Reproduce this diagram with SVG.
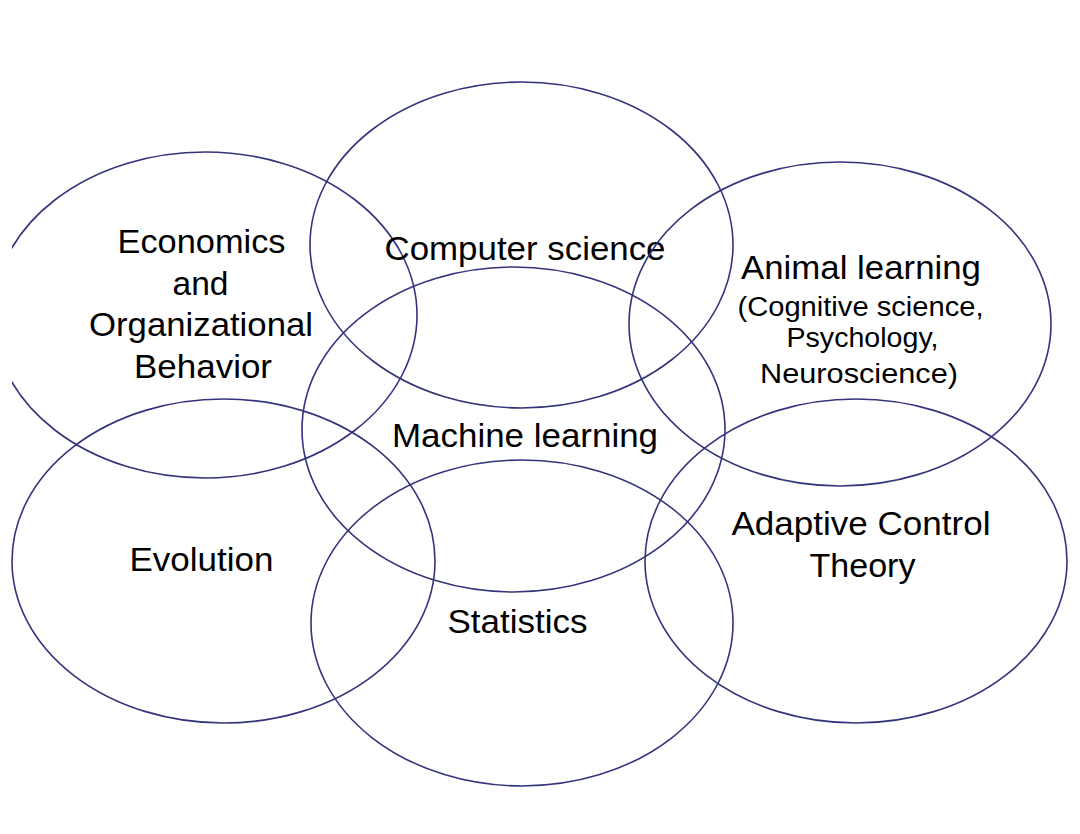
<svg xmlns="http://www.w3.org/2000/svg" width="1080" height="834" viewBox="0 0 1080 834">
<defs>
<style>
.c{fill:none;stroke:#34347c;stroke-width:1.6}
.t{font-family:"Liberation Sans",Arial,sans-serif;font-size:33px;fill:#000;text-anchor:middle}
.s{font-size:27px}
</style>
<clipPath id="clipL"><rect x="12" y="0" width="1068" height="834"/></clipPath>
</defs>
<rect width="1080" height="834" fill="#fff"/>
<g id="economics">
<ellipse class="c" cx="205" cy="315" rx="212" ry="163" clip-path="url(#clipL)"/>
<text class="t" x="201.5" y="253" textLength="168" lengthAdjust="spacingAndGlyphs">Economics</text>
<text class="t" x="200.5" y="295" textLength="56" lengthAdjust="spacingAndGlyphs">and</text>
<text class="t" x="201" y="336" textLength="224" lengthAdjust="spacingAndGlyphs">Organizational</text>
<text class="t" x="203" y="378" textLength="138" lengthAdjust="spacingAndGlyphs">Behavior</text>
</g>
<g id="computer-science">
<ellipse class="c" cx="521.5" cy="245" rx="211.5" ry="163"/>
<text class="t" x="525" y="260" textLength="281" lengthAdjust="spacingAndGlyphs">Computer science</text>
</g>
<g id="animal-learning">
<ellipse class="c" cx="840" cy="324" rx="211" ry="162"/>
<text class="t" x="861" y="279" textLength="240" lengthAdjust="spacingAndGlyphs">Animal learning</text>
<text class="t s" x="860.5" y="316" textLength="246" lengthAdjust="spacingAndGlyphs">(Cognitive science,</text>
<text class="t s" x="862.5" y="347" textLength="152" lengthAdjust="spacingAndGlyphs">Psychology,</text>
<text class="t s" x="859" y="383" textLength="198" lengthAdjust="spacingAndGlyphs">Neuroscience)</text>
</g>
<g id="machine-learning">
<ellipse class="c" cx="513.5" cy="429.5" rx="211.5" ry="162.5"/>
<text class="t" x="525" y="447" textLength="266" lengthAdjust="spacingAndGlyphs">Machine learning</text>
</g>
<g id="evolution">
<ellipse class="c" cx="223.5" cy="561" rx="211.5" ry="162"/>
<text class="t" x="201.5" y="571" textLength="144" lengthAdjust="spacingAndGlyphs">Evolution</text>
</g>
<g id="statistics">
<ellipse class="c" cx="522" cy="623" rx="211" ry="163"/>
<text class="t" x="517.5" y="633" textLength="140" lengthAdjust="spacingAndGlyphs">Statistics</text>
</g>
<g id="adaptive-control">
<ellipse class="c" cx="856" cy="561" rx="211" ry="162"/>
<text class="t" x="861" y="535" textLength="259" lengthAdjust="spacingAndGlyphs">Adaptive Control</text>
<text class="t" x="862.5" y="577" textLength="106" lengthAdjust="spacingAndGlyphs">Theory</text>
</g>
<g id="connectors"></g>
</svg>
